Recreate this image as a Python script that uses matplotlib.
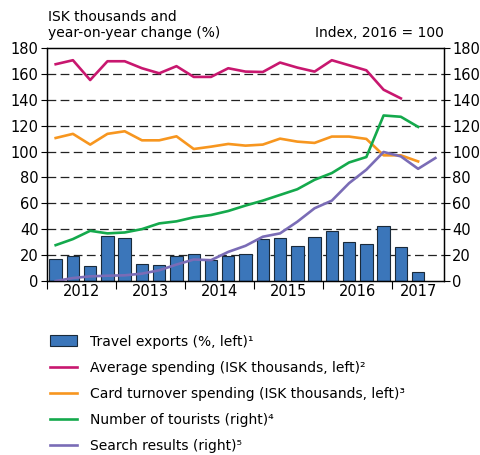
import numpy as np
import matplotlib.pyplot as plt
from matplotlib.lines import Line2D
from matplotlib.patches import Patch

# quarterly data, 2012Q1 onwards
years = ['2012', '2013', '2014', '2015', '2016', '2017']
travel_exports = [16.8, 19.2, 11.7, 34.4, 33.1, 12.9, 12.2, 19.4, 21.2, 16.6, 19.2, 20.7,
                  32.1, 33.4, 26.7, 33.7, 38.3, 30.3, 28.7, 42.7, 26.1, 7.0]
avg_spending = [167.5, 170.6, 155.3, 169.8, 169.8, 164.4, 160.5, 166.0, 157.7, 157.7, 164.4, 161.8,
                161.5, 168.8, 164.9, 161.8, 170.6, 166.7, 162.8, 147.8, 141.1]
card_spending = [110.5, 113.7, 105.4, 113.7, 115.7, 108.7, 108.7, 111.8, 102.0, 103.8, 105.9, 104.6,
                 105.4, 110.0, 107.7, 106.7, 111.6, 111.6, 109.8, 97.1, 97.1, 92.4]
tourists = [27.7, 32.4, 38.8, 36.8, 37.5, 40.1, 44.5, 46.1, 49.2, 51.0, 54.1, 58.3,
            62.1, 66.5, 70.9, 78.2, 83.4, 91.6, 95.8, 127.9, 126.9, 119.1]
search = [0.0, 2.3, 3.6, 4.1, 4.4, 5.7, 8.3, 12.7, 16.6, 16.1, 22.5, 27.2,
          34.2, 36.8, 45.8, 56.2, 62.1, 75.6, 86.0, 99.7, 96.3, 86.7, 95.0]

c_bar = '#3b76ba'
c_avg = '#c8176f'
c_card = '#f7961f'
c_tour = '#14a94c'
c_search = '#7a6cb6'

fig = plt.figure(figsize=(4.8, 4.55), dpi=100)
ax = fig.add_axes([0.098, 0.3824, 0.827, 0.512])
ax2 = ax.twinx()

ax.bar(np.arange(len(travel_exports)), travel_exports, width=0.72, color=c_bar,
       edgecolor='#1a2a3a', linewidth=0.8, zorder=2)
ax.plot(np.arange(len(avg_spending)), avg_spending, color=c_avg, lw=1.9, zorder=3)
ax.plot(np.arange(len(card_spending)), card_spending, color=c_card, lw=1.9, zorder=3)
ax2.plot(np.arange(len(tourists)), tourists, color=c_tour, lw=1.9)
ax2.plot(np.arange(len(search)), search, color=c_search, lw=1.9)

for v in range(20, 180, 20):
    ax.axhline(v, color='#222222', lw=0.9, ls=(0, (7, 3.5)), zorder=1)

for a in (ax, ax2):
    a.set_ylim(0, 180)
    a.set_yticks(range(0, 181, 20))
    a.tick_params(axis='y', labelsize=10.5, length=4, width=0.8, pad=2)
    for s in a.spines.values():
        s.set_linewidth(0.9)
ax.set_xlim(-0.5, 22.5)
ax.set_xticks([-0.5, 3.5, 7.5, 11.5, 15.5, 19.5])
ax.set_xticklabels([])
ax.tick_params(axis='x', which='major', length=6, width=0.8)
ax.set_xticks([1.5, 5.5, 9.5, 13.5, 17.5, 21], minor=True)
ax.set_xticklabels(years, minor=True)
ax.tick_params(axis='x', which='minor', length=0, labelsize=10.5, pad=2)

fig.text(0.1, 0.912, 'ISK thousands and\nyear-on-year change (%)', fontsize=10,
         ha='left', va='bottom', linespacing=1.15)
fig.text(0.925, 0.912, 'Index, 2016 = 100', fontsize=10, ha='right', va='bottom')

handles = [
    Patch(facecolor=c_bar, edgecolor='#1a2a3a', linewidth=0.8),
    Line2D([], [], color=c_avg, lw=1.9),
    Line2D([], [], color=c_card, lw=1.9),
    Line2D([], [], color=c_tour, lw=1.9),
    Line2D([], [], color=c_search, lw=1.9),
]
labels = ['Travel exports (%, left)\u00b9',
          'Average spending (ISK thousands, left)\u00b2',
          'Card turnover spending (ISK thousands, left)\u00b3',
          'Number of tourists (right)\u2074',
          'Search results (right)\u2075']
fig.legend(handles, labels, loc='upper left', bbox_to_anchor=(0.092, 0.277),
           frameon=False, fontsize=10, handlelength=2.0, handleheight=0.8,
           handletextpad=0.9, labelspacing=0.88, borderaxespad=0)

fig.savefig('out.png', dpi=100)
